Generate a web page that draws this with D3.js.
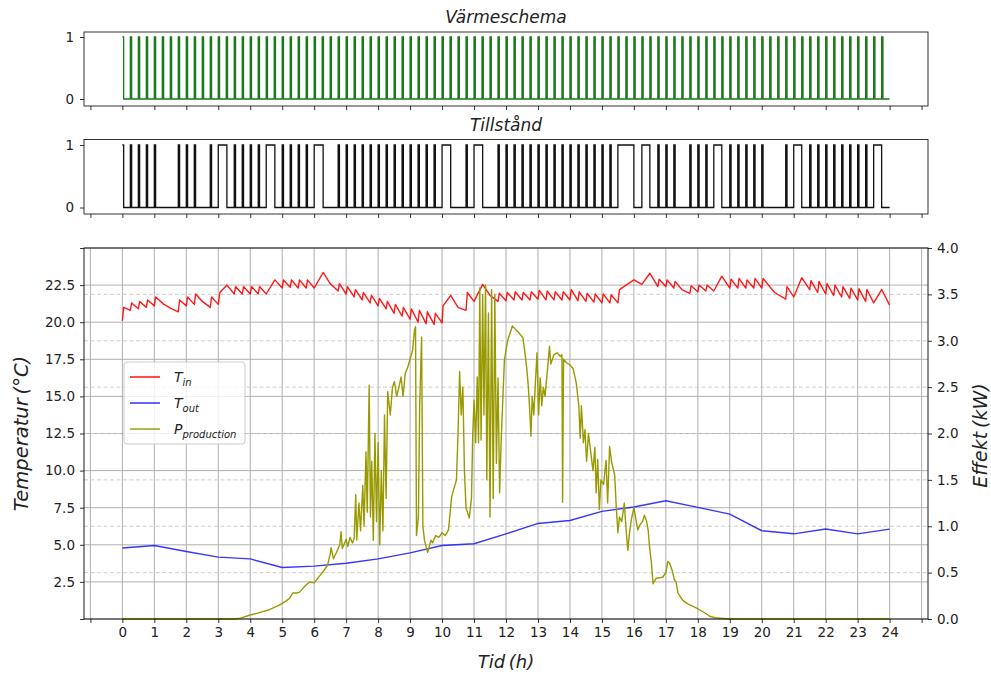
<!DOCTYPE html>
<html>

<head>
    <script src="https://d3js.org/d3.v7.min.js"></script>
    <meta charset="utf-8">
    <style>
        body { margin: 0; background: #fff; }
        text { font-family: "DejaVu Sans", sans-serif; }
    </style>
</head>

<body>
    <div id="my_dataviz"></div>
    <script>
        // ---- data ----
        // x ticks (hours)
        var hourTicks = [-1, 0, 1, 2, 3, 4, 5, 6, 7, 8, 9, 10, 11, 12, 13, 14, 15, 16, 17, 18, 19, 20, 21, 22, 23, 24, 25];
        var hourLabels = [0, 1, 2, 3, 4, 5, 6, 7, 8, 9, 10, 11, 12, 13, 14, 15, 16, 17, 18, 19, 20, 21, 22, 23, 24];
        var tempTicks = [0, 2.5, 5, 7.5, 10, 12.5, 15, 17.5, 20, 22.5, 25];
        var tempLabels = [2.5, 5, 7.5, 10, 12.5, 15, 17.5, 20, 22.5];
        var powerTicks = [0, 0.5, 1, 1.5, 2, 2.5, 3, 3.5, 4];

        // Värmeschema: start of each heating pulse (h), pulse length
        var pulseLen = 0.04;
        var schedStart = [0, 0.25, 0.5, 0.75, 1, 1.25, 1.5, 1.75, 2, 2.25, 2.5, 2.75, 3, 3.25, 3.5, 3.75,
            4, 4.25, 4.5, 4.75, 5, 5.25, 5.5, 5.75, 6, 6.25, 6.5, 6.75, 7, 7.25, 7.5, 7.75,
            8, 8.25, 8.5, 8.75, 9, 9.25, 9.5, 9.75, 10, 10.25, 10.5, 10.75, 11, 11.25, 11.5, 11.75,
            12, 12.25, 12.5, 12.75, 13, 13.25, 13.5, 13.75, 14, 14.25, 14.5, 14.75, 15, 15.25, 15.5, 15.75,
            16, 16.25, 16.5, 16.75, 17, 17.25, 17.5, 17.75, 18, 18.25, 18.5, 18.75, 19, 19.25, 19.5, 19.75,
            20, 20.25, 20.5, 20.75, 21, 21.25, 21.5, 21.75, 22, 22.25, 22.5, 22.75, 23, 23.25, 23.5, 23.75];

        // Tillstånd: on-intervals [start, end] (h)
        var stateOn = [[0, 0.04], [0.25, 0.29], [0.5, 0.54], [0.75, 0.79], [1, 1.04], [1.75, 1.79], [2, 2.04], [2.25, 2.29],
            [2.75, 2.79], [3, 3.27], [3.5, 3.54], [3.75, 3.79], [4, 4.04], [4.25, 4.29], [4.5, 4.77], [5, 5.04],
            [5.25, 5.29], [5.5, 5.54], [5.75, 5.79], [6, 6.28], [6.75, 6.79], [7, 7.04], [7.25, 7.29], [7.5, 7.54],
            [7.75, 7.79], [8, 8.04], [8.25, 8.29], [8.5, 8.54], [8.75, 8.79], [9, 9.04], [9.25, 9.29], [9.5, 9.54],
            [9.75, 9.79], [10, 10.27], [10.75, 10.79], [11, 11.27], [11.75, 11.79], [12, 12.04], [12.25, 12.29],
            [12.5, 12.54], [12.75, 12.79], [13, 13.04], [13.25, 13.29], [13.5, 13.54], [13.75, 13.79], [14, 14.04],
            [14.25, 14.29], [14.5, 14.54], [14.75, 14.79], [15, 15.04], [15.25, 15.29], [15.5, 16], [16.25, 16.5],
            [16.75, 16.79], [17, 17.04], [17.25, 17.29], [17.75, 17.79], [18, 18.04], [18.25, 18.29], [18.5, 18.75],
            [19, 19.04], [19.25, 19.29], [19.5, 19.54], [19.75, 19.79], [20, 20.04], [20.75, 20.79], [21, 21.25],
            [21.5, 21.54], [21.75, 21.79], [22, 22.04], [22.25, 22.29], [22.5, 22.54], [22.75, 22.79], [23, 23.04],
            [23.25, 23.29], [23.5, 23.75]];

        // indoor temperature [h, °C]
        var tIn = [[0, 20.1], [0.04, 21.0], [0.25, 20.8], [0.29, 21.3], [0.5, 20.9], [0.54, 21.4], [0.75, 21.0], [0.79, 21.5],
            [1, 21.1], [1.04, 21.7], [1.3, 21.2], [1.5, 20.95], [1.75, 20.7], [1.79, 21.5], [2, 21.1], [2.04, 21.7],
            [2.25, 21.2], [2.29, 21.9], [2.5, 21.4], [2.75, 21.0], [2.79, 21.7], [3, 21.2], [3.05, 22.0], [3.27, 22.5],
            [3.5, 21.9], [3.54, 22.4], [3.75, 21.9], [3.79, 22.4], [4, 21.9], [4.04, 22.4], [4.25, 21.9], [4.29, 22.4],
            [4.5, 21.9], [4.77, 22.85], [5, 22.3], [5.04, 22.85], [5.25, 22.35], [5.29, 22.85], [5.5, 22.3], [5.54, 22.85],
            [5.75, 22.3], [5.79, 22.85], [6, 22.3], [6.28, 23.35], [6.5, 22.6], [6.75, 22.1], [6.79, 22.6], [7, 21.9],
            [7.04, 22.4], [7.25, 21.7], [7.29, 22.2], [7.5, 21.5], [7.54, 22.0], [7.75, 21.3], [7.79, 21.8], [8, 21.1],
            [8.04, 21.6], [8.25, 20.9], [8.29, 21.4], [8.5, 20.6], [8.54, 21.2], [8.75, 20.4], [8.79, 21.0], [9, 20.2],
            [9.04, 20.9], [9.25, 20.0], [9.29, 20.8], [9.5, 19.9], [9.54, 20.7], [9.75, 19.85], [9.79, 20.6], [10, 19.95],
            [10.03, 21.1], [10.27, 21.8], [10.5, 21.0], [10.75, 20.8], [10.79, 22.0], [11, 21.4], [11.27, 22.55],
            [11.5, 21.8], [11.75, 21.4], [11.79, 21.95], [12, 21.45], [12.04, 22.0], [12.25, 21.5], [12.29, 22.05],
            [12.5, 21.5], [12.54, 22.0], [12.75, 21.5], [12.79, 22.05], [13, 21.55], [13.04, 22.15], [13.25, 21.5],
            [13.29, 22.1], [13.5, 21.5], [13.54, 22.05], [13.75, 21.5], [13.79, 22.05], [14, 21.5], [14.04, 22.2],
            [14.25, 21.45], [14.29, 22.05], [14.5, 21.4], [14.54, 21.95], [14.75, 21.35], [14.79, 21.9], [15, 21.3],
            [15.04, 21.9], [15.25, 21.3], [15.29, 21.85], [15.5, 21.3], [15.55, 22.2], [16, 22.85], [16.25, 22.55],
            [16.5, 23.3], [16.75, 22.4], [16.79, 22.9], [17, 22.4], [17.04, 22.85], [17.25, 22.3], [17.29, 22.75],
            [17.5, 22.2], [17.75, 21.95], [17.79, 22.45], [18, 22.05], [18.04, 22.5], [18.25, 22.1], [18.29, 22.5],
            [18.5, 22.1], [18.75, 23.1], [19, 22.3], [19.04, 22.9], [19.25, 22.3], [19.29, 22.95], [19.5, 22.3],
            [19.54, 22.85], [19.75, 22.3], [19.79, 22.95], [20, 22.3], [20.04, 22.95], [20.4, 22.0], [20.75, 21.55],
            [20.79, 22.4], [21, 21.7], [21.25, 23.0], [21.5, 22.2], [21.54, 22.8], [21.75, 22.0], [21.79, 22.75],
            [22, 21.9], [22.04, 22.6], [22.25, 21.8], [22.29, 22.5], [22.5, 21.7], [22.54, 22.4], [22.75, 21.6],
            [22.79, 22.3], [23, 21.5], [23.04, 22.25], [23.25, 21.4], [23.29, 22.2], [23.5, 21.3], [23.75, 22.2], [24, 21.15]];

        // outdoor temperature, hourly
        var tOutHours = [0, 1, 2, 3, 4, 5, 6, 7, 8, 9, 10, 11, 12, 13, 14, 15, 16, 17, 18, 19, 20, 21, 22, 23, 24];
        var tOut = [4.78, 4.95, 4.55, 4.17, 4.05, 3.47, 3.56, 3.76, 4.05, 4.46, 4.95, 5.07, 5.74, 6.44, 6.64, 7.25,
            7.55, 7.97, 7.52, 7.07, 5.95, 5.74, 6.06, 5.74, 6.06];

        // produced power [h, kW]
        var pProd = [[0, 0], [3.5, 0], [3.7, 0.01], [3.97, 0.04], [4.2, 0.06], [4.39, 0.08], [4.6, 0.1], [4.91, 0.15],
            [5.1, 0.19], [5.22, 0.22], [5.33, 0.28], [5.45, 0.28], [5.54, 0.29], [5.7, 0.35], [5.85, 0.4], [6, 0.39],
            [6.16, 0.46], [6.3, 0.52], [6.42, 0.58], [6.5, 0.7], [6.53, 0.77], [6.6, 0.65], [6.7, 0.72], [6.8, 0.8],
            [6.84, 0.94], [6.88, 0.76], [6.95, 0.82], [7, 0.86], [7.05, 0.78], [7.12, 0.88], [7.2, 0.82], [7.25, 0.87],
            [7.3, 1.34], [7.33, 0.85], [7.4, 1.25], [7.45, 0.95], [7.52, 1.44], [7.56, 1.0], [7.62, 1.8], [7.66, 1.15],
            [7.72, 2.52], [7.76, 1.1], [7.8, 1.7], [7.85, 0.85], [7.9, 2.0], [7.95, 1.05], [8, 1.9], [8.05, 0.8],
            [8.1, 1.6], [8.15, 0.95], [8.2, 2.2], [8.25, 1.3], [8.3, 2.45], [8.38, 2.2], [8.45, 2.5], [8.51, 2.56],
            [8.58, 2.4], [8.65, 2.5], [8.72, 2.61], [8.78, 2.4], [8.85, 2.65], [8.93, 2.72], [9, 2.8], [9.08, 2.9],
            [9.14, 3.12], [9.17, 3.15], [9.2, 0.9], [9.26, 1.1], [9.3, 2.3], [9.36, 3.04], [9.4, 1.0], [9.45, 0.85],
            [9.5, 0.78], [9.55, 0.72], [9.6, 0.78], [9.65, 0.85], [9.7, 0.82], [9.8, 0.9], [9.9, 0.88], [10, 0.93],
            [10.1, 0.9], [10.2, 0.96], [10.3, 1.32], [10.45, 1.5], [10.5, 2.0], [10.55, 2.67], [10.6, 2.2], [10.65, 2.5],
            [10.7, 1.6], [10.75, 1.2], [10.85, 1.09], [10.92, 1.3], [10.96, 2.0], [11, 2.36], [11.05, 1.9], [11.1, 2.61],
            [11.14, 1.9], [11.18, 3.57], [11.22, 1.93], [11.27, 3.5], [11.31, 2.2], [11.36, 3.6], [11.4, 1.5],
            [11.45, 3.3], [11.5, 1.1], [11.55, 3.55], [11.6, 1.3], [11.65, 3.5], [11.7, 1.68], [11.75, 2.6], [11.8, 1.36],
            [11.85, 1.93], [11.95, 2.79], [12.05, 3.0], [12.2, 3.16], [12.3, 3.12], [12.42, 3.08], [12.53, 3.03],
            [12.6, 2.85], [12.65, 2.7], [12.7, 2.5], [12.75, 2.2], [12.78, 1.97], [12.82, 2.4], [12.87, 2.2],
            [12.92, 2.55], [12.97, 2.87], [13.02, 2.2], [13.07, 2.6], [13.12, 2.3], [13.17, 2.5], [13.22, 2.4],
            [13.3, 2.7], [13.36, 2.94], [13.4, 2.75], [13.5, 2.85], [13.6, 2.87], [13.7, 2.83], [13.75, 2.85],
            [13.77, 1.26], [13.8, 2.8], [13.9, 2.76], [14, 2.74], [14.1, 2.7], [14.2, 2.54], [14.28, 2.29], [14.32, 1.95],
            [14.36, 2.3], [14.42, 1.9], [14.47, 2.04], [14.52, 1.7], [14.58, 2.0], [14.65, 1.8], [14.72, 1.6],
            [14.78, 1.85], [14.82, 1.36], [14.87, 1.72], [14.92, 1.18], [14.97, 1.5], [15.05, 1.45], [15.13, 1.71],
            [15.18, 1.25], [15.24, 1.86], [15.3, 1.7], [15.4, 1.55], [15.45, 1.2], [15.5, 0.93], [15.55, 1.1],
            [15.62, 1.05], [15.7, 1.25], [15.75, 1.0], [15.81, 0.74], [15.87, 0.95], [15.92, 1.07], [16, 1.2],
            [16.05, 1.1], [16.12, 0.96], [16.2, 1.02], [16.27, 1.05], [16.33, 1.12], [16.4, 1.05], [16.45, 0.95],
            [16.49, 0.78], [16.55, 0.6], [16.6, 0.38], [16.7, 0.44], [16.9, 0.45], [17, 0.5], [17.06, 0.62],
            [17.12, 0.6], [17.2, 0.52], [17.27, 0.42], [17.32, 0.4], [17.38, 0.28], [17.53, 0.2], [17.7, 0.16],
            [17.95, 0.12], [18.2, 0.07], [18.37, 0.03], [18.6, 0.01], [19, 0], [24, 0]];

        // ---- layout ----
        var width = 991;
        var height = 675;
        var left = 84, right = 928;

        var svg = d3.select("#my_dataviz")
            .append("svg")
            .attr("width", width)
            .attr("height", height);

        var x = d3.scaleLinear().domain([-1.2, 25.2]).range([left, right]);

        function stepPath(intervals) {
            var pts = [];
            intervals.forEach(function (iv) {
                pts.push([iv[0], 0], [iv[0], 1], [iv[1], 1], [iv[1], 0]);
            });
            pts.shift(); // first pulse starts high at t=0
            pts.push([24, 0]);
            return pts;
        }

        function styleAxis(g) {
            g.select(".domain").remove();
            g.selectAll(".tick line").attr("stroke", "#000").attr("stroke-width", 0.8);
            g.selectAll(".tick text").attr("fill", "#222").style("font-size", "13.5px")
                .style("font-family", "DejaVu Sans");
        }

        // small step panels
        function stepPanel(top, bottom, y0, y1, title, data, color) {
            var y = d3.scaleLinear().domain([0, 1]).range([y0, y1]);
            var g = svg.append("g");
            g.append("path")
                .datum(data)
                .attr("fill", "none")
                .attr("stroke", color)
                .attr("stroke-width", 1.3)
                .attr("d", d3.line().x(d => x(d[0])).y(d => y(d[1])));
            g.append("rect")
                .attr("x", left).attr("y", top)
                .attr("width", right - left).attr("height", bottom - top)
                .attr("fill", "none").attr("stroke", "#000").attr("stroke-width", 0.8);
            g.append("g").attr("transform", "translate(0," + bottom + ")")
                .call(d3.axisBottom(x).tickValues(hourTicks).tickFormat("").tickSize(4))
                .call(styleAxis);
            g.append("g").attr("transform", "translate(" + left + ",0)")
                .call(d3.axisLeft(y).tickValues([0, 1]).tickFormat(d3.format("d")).tickSize(4).tickPadding(6))
                .call(styleAxis);
            g.append("text")
                .attr("x", (left + right) / 2).attr("y", top - 9)
                .attr("text-anchor", "middle")
                .style("font-size", "17px").style("font-style", "italic")
                .attr("fill", "#222")
                .text(title);
        }

        var schedIntervals = schedStart.map(s => [s, s + pulseLen]);
        stepPanel(32, 106, 99, 37, "Värmeschema", stepPath(schedIntervals), "#1a7a1a");
        stepPanel(139.5, 214, 207.5, 145, "Tillstånd", stepPath(stateOn), "#111");

        // ---- main panel ----
        var mTop = 248, mBottom = 619;
        var yT = d3.scaleLinear().domain([0, 25]).range([mBottom, mTop]);
        var yP = d3.scaleLinear().domain([0, 4]).range([mBottom, mTop]);

        var main = svg.append("g");

        // grid
        main.append("g").selectAll("line").data(hourTicks).enter().append("line")
            .attr("x1", d => x(d)).attr("x2", d => x(d))
            .attr("y1", mTop).attr("y2", mBottom)
            .attr("stroke", "#b0b0b0").attr("stroke-width", 1);
        main.append("g").selectAll("line").data(tempTicks).enter().append("line")
            .attr("x1", left).attr("x2", right)
            .attr("y1", d => yT(d)).attr("y2", d => yT(d))
            .attr("stroke", "#b0b0b0").attr("stroke-width", 1);
        main.append("g").selectAll("line").data(powerTicks.filter(d => d > 0 && d < 4)).enter().append("line")
            .attr("x1", left).attr("x2", right)
            .attr("y1", d => yP(d)).attr("y2", d => yP(d))
            .attr("stroke", "#c8c8c8").attr("stroke-width", 0.9)
            .attr("stroke-dasharray", "4,2.5");

        // lines
        main.append("path").datum(tIn)
            .attr("fill", "none").attr("stroke", "#ff0000").attr("stroke-opacity", 0.9)
            .attr("stroke-width", 1.4).attr("stroke-linejoin", "round")
            .attr("d", d3.line().x(d => x(d[0])).y(d => yT(d[1])));
        main.append("path").datum(tOutHours.map((h, i) => [h, tOut[i]]))
            .attr("fill", "none").attr("stroke", "#2020ff").attr("stroke-opacity", 0.9)
            .attr("stroke-width", 1.4)
            .attr("d", d3.line().x(d => x(d[0])).y(d => yT(d[1])));
        main.append("path").datum(pProd)
            .attr("fill", "none").attr("stroke", "#999900")
            .attr("stroke-width", 1.4).attr("stroke-linejoin", "round")
            .attr("d", d3.line().x(d => x(d[0])).y(d => yP(d[1])));

        // frame
        main.append("rect")
            .attr("x", left).attr("y", mTop)
            .attr("width", right - left).attr("height", mBottom - mTop)
            .attr("fill", "none").attr("stroke", "#000").attr("stroke-width", 0.9);

        // axes
        main.append("g").attr("transform", "translate(0," + mBottom + ")")
            .call(d3.axisBottom(x).tickValues(hourTicks).tickSize(4).tickPadding(4)
                .tickFormat(d => hourLabels.indexOf(d) >= 0 ? d : ""))
            .call(styleAxis);
        main.append("g").attr("transform", "translate(" + left + ",0)")
            .call(d3.axisLeft(yT).tickValues(tempTicks).tickSize(4).tickPadding(5)
                .tickFormat(d => tempLabels.indexOf(d) >= 0 ? d3.format(".1f")(d) : ""))
            .call(styleAxis);
        main.append("g").attr("transform", "translate(" + right + ",0)")
            .call(d3.axisRight(yP).tickValues(powerTicks).tickSize(4).tickPadding(5)
                .tickFormat(d3.format(".1f")))
            .call(styleAxis);

        // axis titles
        main.append("text")
            .attr("transform", "translate(21," + (mTop + mBottom) / 2 + ") rotate(-90)")
            .attr("text-anchor", "middle").attr("dominant-baseline", "central")
            .style("font-size", "19.5px").style("font-style", "italic").attr("fill", "#222")
            .text("Temperatur\u2009(°C)");
        main.append("text")
            .attr("transform", "translate(980," + ((mTop + mBottom) / 2 + 2) + ") rotate(-90)")
            .attr("text-anchor", "middle").attr("dominant-baseline", "central")
            .style("font-size", "19px").style("font-style", "italic").attr("fill", "#222")
            .text("Effekt\u2009(kW)");
        main.append("text")
            .attr("x", (left + right) / 2).attr("y", 668)
            .attr("text-anchor", "middle")
            .style("font-size", "18px").style("font-style", "italic").attr("fill", "#222")
            .text("Tid\u2009(h)");

        // legend
        var legendItems = [
            { name: "T", sub: "in", color: "#ff0000" },
            { name: "T", sub: "out", color: "#2020ff" },
            { name: "P", sub: "production", color: "#999900" }
        ];
        var lg = main.append("g").attr("transform", "translate(124,362)");
        lg.append("rect")
            .attr("width", 121).attr("height", 82).attr("rx", 3)
            .attr("fill", "#fff").attr("fill-opacity", 0.8)
            .attr("stroke", "#cccccc");
        legendItems.forEach(function (d, i) {
            var yy = 15 + i * 26;
            lg.append("line")
                .attr("x1", 6).attr("x2", 36).attr("y1", yy).attr("y2", yy)
                .attr("stroke", d.color).attr("stroke-width", 1.4);
            var t = lg.append("text")
                .attr("x", 50).attr("y", yy + 5)
                .style("font-size", "14px").style("font-style", "italic").attr("fill", "#222");
            t.append("tspan").text(d.name);
            t.append("tspan").attr("dy", 4).style("font-size", "10px").text(d.sub);
        });
    </script>
</body>

</html>
